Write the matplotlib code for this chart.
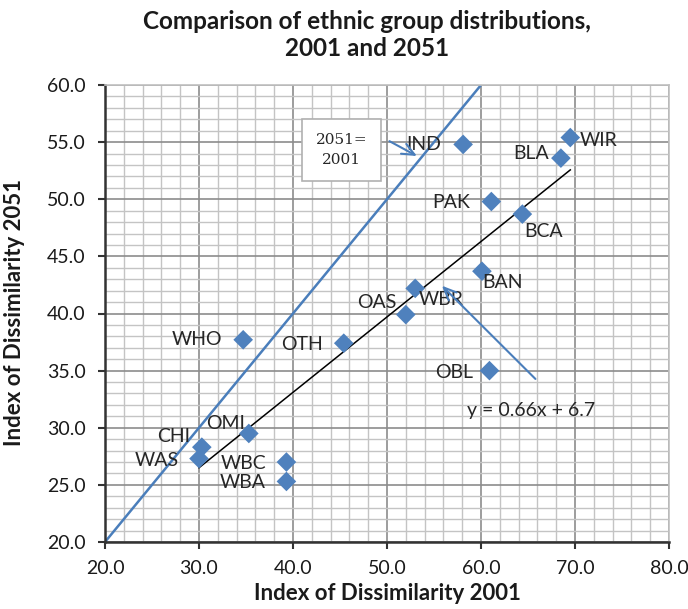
import matplotlib
matplotlib.use("Agg")
import matplotlib.pyplot as plt
from matplotlib.ticker import MultipleLocator, FormatStrFormatter
import numpy as np

# ---------------- data ----------------
groups = ["IND", "WIR", "BLA", "PAK", "BCA", "BAN", "WBR", "OAS", "OBL",
          "WHO", "OTH", "OMI", "CHI", "WAS", "WBC", "WBA"]
dis_2001 = [58.1, 69.5, 68.5, 61.1, 64.4, 60.1, 53.0, 52.0, 60.9,
            34.7, 45.4, 35.3, 30.3, 30.0, 39.3, 39.3]
dis_2051 = [54.8, 55.4, 53.6, 49.8, 48.7, 43.7, 42.2, 39.9, 35.0,
            37.7, 37.4, 29.5, 28.3, 27.3, 27.0, 25.3]
trend_slope = 0.66
trend_intercept = 6.7
equal_line = [20.0, 60.0]
x_ticks = [20.0, 30.0, 40.0, 50.0, 60.0, 70.0, 80.0]
y_ticks = [20.0, 25.0, 30.0, 35.0, 40.0, 45.0, 50.0, 55.0, 60.0]

# ---------------- layout (label positions) ----------------
label_pos = {
    "IND": (53.9, 54.75), "WIR": (72.5, 55.1), "BLA": (65.3, 54.0),
    "PAK": (56.8, 49.7), "BCA": (66.7, 47.2), "BAN": (62.3, 42.7),
    "WBR": (55.8, 41.2), "OAS": (48.9, 41.0), "OBL": (57.1, 34.8),
    "WHO": (29.8, 37.7), "OTH": (41.0, 37.25), "OMI": (32.8, 30.4),
    "CHI": (27.3, 29.2), "WAS": (25.5, 27.1), "WBC": (34.7, 26.9),
    "WBA": (34.7, 25.25),
}

plt.rcParams['font.family'] = ['Lato', 'DejaVu Sans']

W, H = 688, 609
fig = plt.figure(figsize=(W / 100, H / 100), dpi=100)
ax = fig.add_axes([105 / W, 1 - 542 / H, (669 - 105) / W, (542 - 85) / H])

blue = "#4A7EBB"
marker_blue = "#4F81BD"
text_col = '#262626'

ax.set_xlim(x_ticks[0], x_ticks[-1])
ax.set_ylim(y_ticks[0], y_ticks[-1])
ax.set_xticks(x_ticks)
ax.set_yticks(y_ticks)
ax.xaxis.set_minor_locator(MultipleLocator(2))
ax.yaxis.set_minor_locator(MultipleLocator(1))
ax.xaxis.set_major_formatter(FormatStrFormatter('%.1f'))
ax.yaxis.set_major_formatter(FormatStrFormatter('%.1f'))

ax.grid(which='major', color='#8c8c8c', lw=1.2, zorder=0)
ax.grid(which='minor', color='#c4c4c4', lw=1.0, zorder=0)
ax.set_axisbelow(True)

for s in ['top', 'right']:
    ax.spines[s].set_color('#c0c0c0')
    ax.spines[s].set_linewidth(1.2)
for s in ['left', 'bottom']:
    ax.spines[s].set_color('#333333')
    ax.spines[s].set_linewidth(1.8)

ax.tick_params(which='major', direction='out', length=5, width=1.5,
               color='#333333', labelsize=14, labelcolor='#1a1a1a')
ax.tick_params(axis='y', pad=9)
ax.tick_params(axis='x', pad=8)
ax.tick_params(which='minor', length=0)

# y = x line
ax.plot(equal_line, equal_line, color=blue, lw=1.8, zorder=2,
        solid_capstyle='butt')

# trend line
xs = np.array([min(dis_2001), max(dis_2001)])
ax.plot(xs, trend_slope * xs + trend_intercept, color='black', lw=1.1, zorder=3)

# points
ax.scatter(dis_2001, dis_2051, marker='D', s=100, color=marker_blue,
           edgecolors='none', zorder=4)

for g in groups:
    lx, ly = label_pos[g]
    ax.text(lx, ly, g, ha='center', va='center', fontsize=14, color=text_col,
            zorder=5)

# equation
ax.text(58.5, 31.5, "y = 0.66x + 6.7", ha='left', va='center', fontsize=14,
        color=text_col, zorder=5)

# callout box
ax.text(45.15, 54.3, "2051=\n2001", ha='center', va='center', fontsize=11,
        family='DejaVu Serif', color=text_col, linespacing=1.6, zorder=6,
        bbox=dict(boxstyle='square,pad=0.9', fc='white', ec='#b0b0b0', lw=1.2))

# arrows
ax.annotate("", xy=(53.44, 53.67), xytext=(50.0, 55.2),
            arrowprops=dict(arrowstyle='->,head_length=0.9,head_width=0.4',
                            color=blue, lw=1.5), zorder=6)
ax.annotate("", xy=(55.64, 42.6), xytext=(66.0, 34.1),
            arrowprops=dict(arrowstyle='->,head_length=0.9,head_width=0.4',
                            color=blue, lw=1.5), zorder=6)

# titles
fig.text(367 / W, 1 - 35 / H, "Comparison of ethnic group distributions,\n2001 and 2051",
         ha='center', va='center', fontsize=17.5, fontweight='bold',
         color='#1a1a1a', linespacing=1.25)
fig.text(387 / W, 1 - 593 / H, "Index of Dissimilarity 2001", ha='center',
         va='center', fontsize=16, fontweight='bold', color='#1a1a1a')
fig.text(15 / W, 1 - 312 / H, "Index of Dissimilarity 2051", ha='center',
         va='center', rotation=90, fontsize=16, fontweight='bold', color='#1a1a1a')

fig.savefig("out.png", dpi=100)
